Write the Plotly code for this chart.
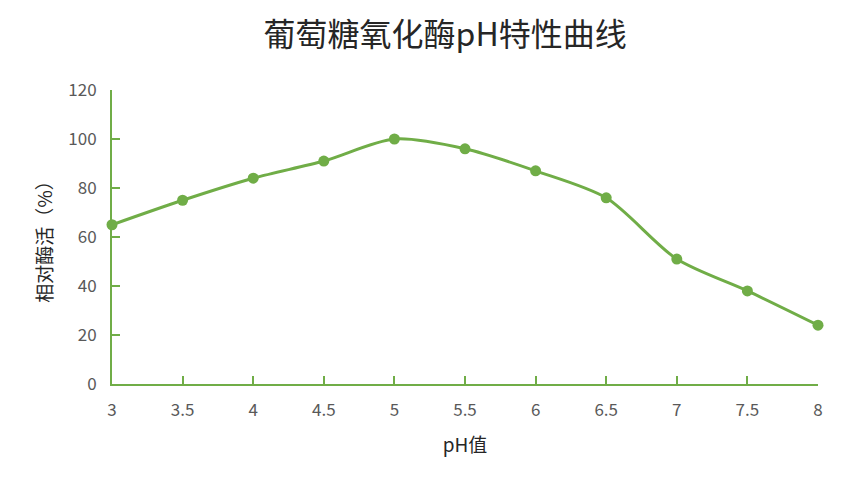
import plotly.graph_objects as go

ph = [3, 3.5, 4, 4.5, 5, 5.5, 6, 6.5, 7, 7.5, 8]
activity = [65, 75, 84, 91, 100, 96, 87, 76, 51, 38, 24]

green = "#70AD47"
grey = "#595959"
font = "Noto Sans CJK SC"

fig = go.Figure()
fig.add_trace(go.Scatter(
    x=ph, y=activity,
    mode="lines+markers",
    line=dict(color=green, width=3, shape="spline", smoothing=0.8),
    marker=dict(color=green, size=11),
    cliponaxis=False,
    showlegend=False,
))

# page body has an 8px margin, so the plot area is shifted up/left by that much
fig.update_layout(
    width=844, height=490,
    margin=dict(l=104, r=34, t=82, b=114),
    paper_bgcolor="white", plot_bgcolor="white",
    font=dict(family=font, color=grey),
    title=dict(text="葡萄糖氧化酶pH特性曲线", x=0.518, xanchor="center",
               y=0.945, yanchor="middle",
               font=dict(size=32, color="#262626", family=font)),
)
fig.update_xaxes(
    range=[3, 8], tickvals=ph, ticktext=[f"{v:g}" for v in ph],
    showline=True, linecolor=green, linewidth=2,
    ticks="inside", ticklen=8, tickcolor=green, tickwidth=2,
    showgrid=False, zeroline=False, automargin=False,
    ticklabelstandoff=10,
    tickfont=dict(size=17, color=grey),
    title=dict(text="pH值", font=dict(size=19, color="#262626"), standoff=18),
)
fig.update_yaxes(
    range=[0, 120], dtick=20,
    showline=True, linecolor=green, linewidth=2,
    ticks="inside", ticklen=8, tickcolor=green, tickwidth=2,
    showgrid=False, zeroline=False, automargin=False,
    ticklabelstandoff=10,
    tickfont=dict(size=17, color=grey),
    title=dict(text="相对酶活（%）", font=dict(size=19, color="#262626"), standoff=11),
)

fig.write_html("out.html")
